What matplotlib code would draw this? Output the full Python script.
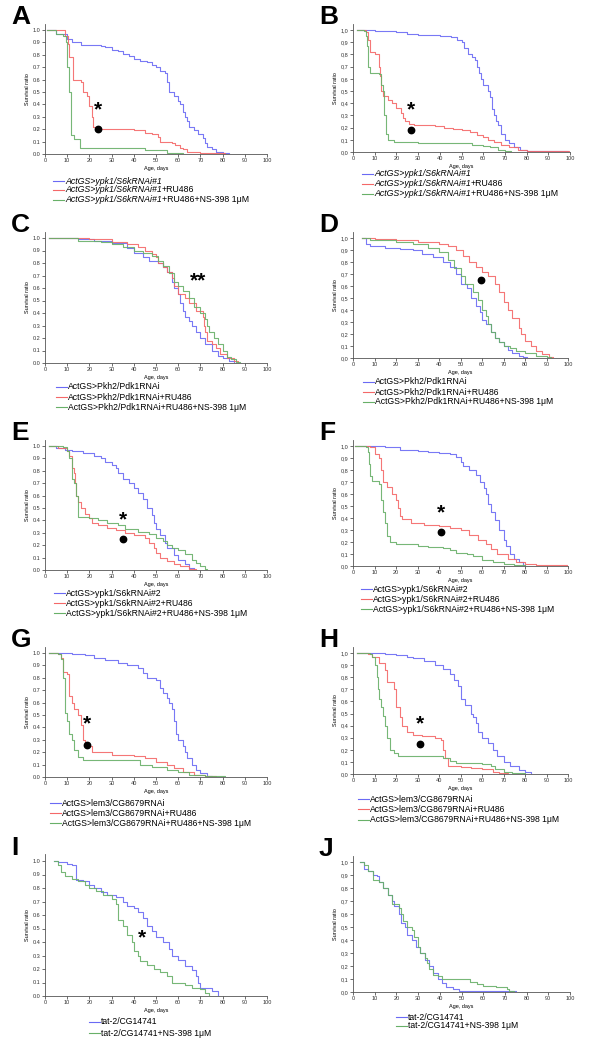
import matplotlib
matplotlib.use("Agg")
import matplotlib.pyplot as plt
from matplotlib.lines import Line2D
from matplotlib.ticker import FuncFormatter

plt.rcParams['font.family'] = ['Liberation Sans', 'DejaVu Sans']

W, H = 600, 1062
BLUE = '#6a6af4'
RED = '#f46868'
GREEN = '#68b068'

# survival curves, (day, survival ratio) at each step
a_blue = [(1, 1.0), (5, 0.97), (10, 0.93), (12, 0.90), (16, 0.88), (25, 0.87), (27, 0.86), (30, 0.84),
          (33, 0.83), (35, 0.81), (38, 0.79), (40, 0.77), (43, 0.75), (46, 0.74), (48, 0.72), (50, 0.70),
          (52, 0.67), (54, 0.65), (55, 0.58), (56, 0.50), (58, 0.47), (60, 0.43), (61, 0.40), (62, 0.34),
          (63, 0.30), (64, 0.27), (65, 0.22), (67, 0.19), (69, 0.16), (71, 0.13), (72, 0.09), (73, 0.06),
          (75, 0.04), (77, 0.02), (80, 0.01), (83, 0.0)]
a_red = [(1, 1.0), (9, 0.95), (10.5, 0.89), (11, 0.78), (12.5, 0.60), (16, 0.58), (17, 0.50), (19, 0.47),
         (20, 0.39), (21, 0.30), (21.5, 0.22), (23, 0.20), (40, 0.19), (45, 0.17), (48, 0.16), (51, 0.14),
         (52, 0.10), (57, 0.09), (58.5, 0.07), (61, 0.05), (62, 0.04), (64, 0.02), (70, 0.01), (75, 0.005),
         (81, 0.0)]
a_green = [(1, 1.0), (5, 0.97), (8, 0.95), (9.3, 0.90), (9.8, 0.70), (10.8, 0.50), (11.6, 0.15),
           (13, 0.12), (15.8, 0.045), (45, 0.03), (55, 0.01), (60, 0.005), (62, 0.0)]

b_blue = [(2, 1.0), (10, 0.99), (20, 0.98), (25, 0.97), (30, 0.96), (40, 0.95), (45, 0.94), (48, 0.92),
          (50, 0.90), (51, 0.85), (53, 0.80), (55, 0.78), (56, 0.75), (57, 0.70), (58, 0.65), (59, 0.60),
          (60, 0.55), (62, 0.50), (63, 0.45), (64, 0.35), (65, 0.30), (66, 0.25), (67, 0.22), (68, 0.15),
          (70, 0.10), (72, 0.07), (74, 0.04), (77, 0.02), (80, 0.01), (90, 0.005), (99, 0.0)]
b_red = [(2, 1.0), (6, 0.98), (7, 0.92), (8, 0.82), (10, 0.80), (12, 0.70), (12.5, 0.62), (13, 0.50),
         (14, 0.46), (16, 0.43), (18, 0.40), (20, 0.36), (22, 0.32), (23, 0.28), (24, 0.25), (26, 0.23),
         (28, 0.22), (38, 0.21), (42, 0.20), (46, 0.19), (50, 0.18), (54, 0.16), (57, 0.14), (60, 0.12),
         (62, 0.10), (65, 0.08), (68, 0.06), (72, 0.04), (76, 0.02), (80, 0.01), (100, 0.01)]
b_green = [(2, 1.0), (5, 0.99), (6, 0.95), (6.5, 0.87), (7, 0.70), (8, 0.65), (12, 0.64), (13, 0.55),
           (14, 0.50), (14.5, 0.30), (15, 0.15), (16, 0.10), (19, 0.08), (30, 0.07), (45, 0.07),
           (55, 0.06), (60, 0.05), (63, 0.04), (67, 0.02), (70, 0.01), (73, 0.0)]

c_blue = [(2, 1.0), (15, 0.99), (22, 0.98), (30, 0.96), (37, 0.92), (40, 0.88), (44, 0.85), (47, 0.82),
          (51, 0.80), (53, 0.77), (55, 0.73), (57, 0.65), (58, 0.60), (60, 0.55), (61, 0.48), (62, 0.42),
          (63, 0.37), (65, 0.34), (66, 0.30), (68, 0.25), (70, 0.20), (72, 0.15), (75, 0.10), (78, 0.06),
          (80, 0.04), (83, 0.02), (85, 0.0)]
c_red = [(2, 1.0), (20, 0.99), (30, 0.97), (37, 0.95), (42, 0.93), (45, 0.90), (48, 0.87), (50, 0.85),
         (51, 0.80), (53, 0.77), (55, 0.73), (57, 0.68), (58, 0.62), (60, 0.55), (63, 0.52), (65, 0.48),
         (68, 0.42), (71, 0.37), (71.5, 0.30), (72, 0.25), (73, 0.18), (75, 0.15), (77, 0.12), (79, 0.07),
         (82, 0.04), (85, 0.02), (87, 0.0)]
c_green = [(2, 1.0), (15, 0.98), (25, 0.97), (30, 0.95), (35, 0.93), (40, 0.90), (44, 0.88), (48, 0.86),
           (51, 0.82), (53, 0.78), (56, 0.72), (58, 0.65), (60, 0.62), (62, 0.58), (65, 0.52), (67, 0.45),
           (70, 0.40), (72, 0.35), (73, 0.30), (74, 0.25), (76, 0.20), (78, 0.15), (80, 0.10), (82, 0.05),
           (84, 0.03), (86, 0.01), (88, 0.0)]

d_blue = [(4, 1.0), (6, 0.95), (8, 0.93), (15, 0.92), (22, 0.91), (28, 0.90), (32, 0.87), (37, 0.84),
          (42, 0.80), (45, 0.76), (48, 0.70), (50, 0.62), (53, 0.58), (55, 0.50), (57, 0.43), (59, 0.38),
          (60, 0.32), (62, 0.28), (64, 0.22), (66, 0.17), (68, 0.13), (70, 0.10), (72, 0.07), (74, 0.04),
          (77, 0.02), (79, 0.01), (81, 0.0)]
d_red = [(4, 1.0), (10, 0.99), (20, 0.98), (30, 0.97), (40, 0.95), (44, 0.93), (48, 0.90), (51, 0.85),
         (54, 0.80), (57, 0.76), (60, 0.72), (63, 0.68), (66, 0.62), (68, 0.55), (70, 0.47), (72, 0.40),
         (74, 0.33), (77, 0.25), (78, 0.20), (80, 0.14), (83, 0.10), (85, 0.06), (88, 0.03), (91, 0.01),
         (93, 0.0)]
d_green = [(4, 1.0), (8, 0.98), (20, 0.97), (28, 0.95), (35, 0.92), (40, 0.88), (44, 0.82), (47, 0.75),
           (50, 0.68), (52, 0.62), (56, 0.55), (58, 0.48), (60, 0.40), (62, 0.35), (63, 0.28), (64, 0.22),
           (66, 0.17), (68, 0.13), (70, 0.10), (73, 0.08), (76, 0.06), (80, 0.04), (85, 0.02), (90, 0.01),
           (92, 0.0)]

e_blue = [(2, 1.0), (5, 0.98), (9, 0.97), (12, 0.96), (17, 0.94), (22, 0.92), (25, 0.90), (27, 0.87),
          (30, 0.85), (32, 0.82), (33, 0.78), (35, 0.73), (38, 0.70), (40, 0.66), (42, 0.62), (44, 0.57),
          (46, 0.50), (48, 0.44), (49, 0.38), (50, 0.33), (52, 0.28), (54, 0.22), (55, 0.18), (58, 0.12),
          (60, 0.08), (63, 0.05), (65, 0.02), (67, 0.0)]
e_red = [(2, 1.0), (6, 0.98), (10, 0.96), (11, 0.92), (12, 0.82), (13, 0.78), (13.5, 0.70), (14, 0.60),
         (15, 0.55), (16, 0.50), (18, 0.45), (20, 0.42), (21, 0.38), (24, 0.36), (28, 0.34), (32, 0.32),
         (36, 0.30), (40, 0.28), (45, 0.26), (47, 0.22), (49, 0.18), (50, 0.14), (52, 0.10), (55, 0.07),
         (58, 0.05), (61, 0.03), (65, 0.01), (68, 0.0)]
e_green = [(2, 1.0), (8, 0.99), (10, 0.96), (11, 0.90), (12, 0.73), (13, 0.70), (14, 0.60), (15, 0.43),
           (20, 0.42), (24, 0.40), (28, 0.38), (33, 0.36), (36, 0.33), (42, 0.31), (47, 0.29), (50, 0.26),
           (53, 0.23), (55, 0.20), (57, 0.18), (60, 0.16), (63, 0.13), (66, 0.08), (68, 0.06), (70, 0.03),
           (72, 0.01), (73, 0.0)]

f_blue = [(1, 1.0), (15, 0.99), (22, 0.97), (30, 0.96), (35, 0.95), (40, 0.94), (45, 0.93), (48, 0.91),
          (50, 0.87), (51, 0.83), (54, 0.80), (57, 0.76), (59, 0.70), (61, 0.65), (62, 0.60), (63, 0.52),
          (64, 0.45), (66, 0.38), (68, 0.30), (70, 0.22), (71, 0.17), (73, 0.10), (75, 0.06), (77, 0.03),
          (79, 0.01), (80, 0.0)]
f_red = [(1, 1.0), (8, 0.99), (10, 0.93), (12, 0.90), (13, 0.80), (14, 0.70), (16, 0.66), (18, 0.60),
         (20, 0.55), (21, 0.48), (22, 0.42), (23, 0.39), (27, 0.36), (33, 0.34), (40, 0.33), (45, 0.32),
         (50, 0.30), (54, 0.26), (58, 0.22), (62, 0.18), (64, 0.14), (67, 0.10), (72, 0.06), (76, 0.03),
         (80, 0.02), (85, 0.01), (100, 0.005)]
f_green = [(1, 1.0), (6, 0.99), (7, 0.95), (7.5, 0.85), (8, 0.75), (9, 0.71), (12, 0.68), (13, 0.55),
           (14, 0.45), (15, 0.36), (16, 0.25), (17, 0.20), (20, 0.18), (30, 0.17), (35, 0.16), (42, 0.15),
           (45, 0.13), (48, 0.11), (53, 0.10), (56, 0.08), (60, 0.05), (65, 0.03), (70, 0.02), (75, 0.01),
           (80, 0.0)]

g_blue = [(2, 1.0), (12, 0.99), (18, 0.98), (22, 0.96), (27, 0.94), (33, 0.92), (37, 0.90), (42, 0.88),
          (44, 0.84), (46, 0.80), (50, 0.78), (52, 0.72), (53, 0.68), (55, 0.64), (56, 0.60), (57, 0.55),
          (58, 0.45), (59, 0.35), (60, 0.30), (62, 0.25), (63, 0.20), (64, 0.15), (66, 0.10), (68, 0.06),
          (70, 0.03), (73, 0.01), (75, 0.0)]
g_red = [(2, 1.0), (6, 0.99), (7, 0.96), (8, 0.85), (10, 0.83), (11, 0.65), (12, 0.60), (13, 0.55),
         (15, 0.50), (16, 0.42), (17, 0.30), (18, 0.25), (21, 0.20), (30, 0.18), (40, 0.17), (45, 0.15),
         (50, 0.12), (55, 0.10), (58, 0.07), (62, 0.04), (67, 0.02), (72, 0.01), (77, 0.0)]
g_green = [(2, 1.0), (6, 0.99), (7, 0.95), (8, 0.80), (9, 0.52), (10, 0.45), (11, 0.35), (12, 0.30),
           (13, 0.22), (15, 0.16), (17, 0.14), (43, 0.10), (48, 0.08), (55, 0.06), (60, 0.04), (65, 0.02),
           (72, 0.01), (81, 0.0)]

h_blue = [(2, 1.0), (15, 0.99), (20, 0.98), (25, 0.97), (28, 0.96), (33, 0.93), (38, 0.90), (42, 0.87),
          (45, 0.83), (47, 0.78), (49, 0.73), (50, 0.62), (52, 0.57), (55, 0.50), (56, 0.47), (57, 0.42),
          (58, 0.35), (60, 0.30), (63, 0.26), (65, 0.20), (67, 0.15), (70, 0.10), (73, 0.07), (77, 0.03),
          (80, 0.02), (83, 0.0)]
h_red = [(2, 1.0), (7, 0.99), (9, 0.97), (12, 0.92), (15, 0.86), (16, 0.76), (19, 0.70), (20, 0.55),
         (22, 0.47), (23, 0.40), (25, 0.35), (28, 0.32), (32, 0.31), (38, 0.30), (41, 0.28), (42, 0.20),
         (43, 0.13), (44, 0.07), (50, 0.06), (55, 0.05), (60, 0.04), (65, 0.02), (68, 0.01), (72, 0.0)]
h_green = [(2, 1.0), (8, 0.99), (9, 0.97), (10, 0.90), (11, 0.80), (11.5, 0.70), (12, 0.62), (13, 0.55),
           (14, 0.48), (15, 0.40), (16, 0.30), (17, 0.20), (19, 0.17), (21, 0.15), (38, 0.15), (42, 0.13),
           (45, 0.11), (48, 0.09), (60, 0.08), (64, 0.07), (66, 0.04), (70, 0.02), (74, 0.01), (80, 0.0)]

i_blue = [(4, 1.0), (6, 0.99), (10, 0.98), (12, 0.97), (14, 0.86), (17, 0.85), (20, 0.82), (22, 0.80),
          (25, 0.77), (28, 0.75), (32, 0.73), (35, 0.70), (37, 0.67), (40, 0.65), (42, 0.62), (44, 0.58),
          (46, 0.52), (48, 0.48), (50, 0.44), (53, 0.40), (56, 0.35), (57, 0.30), (60, 0.27), (63, 0.22),
          (66, 0.19), (68, 0.15), (69, 0.10), (70, 0.06), (75, 0.04), (78, 0.0)]
i_green = [(4, 1.0), (6, 0.97), (7, 0.92), (9, 0.89), (12, 0.87), (15, 0.85), (18, 0.82), (20, 0.80),
           (23, 0.78), (26, 0.75), (30, 0.72), (32, 0.68), (33, 0.56), (35, 0.52), (37, 0.45), (39, 0.40),
           (40, 0.33), (42, 0.30), (43, 0.26), (46, 0.23), (49, 0.20), (52, 0.18), (55, 0.15), (57, 0.10),
           (63, 0.08), (66, 0.06), (70, 0.05), (72, 0.02), (74, 0.0)]

j_blue = [(3, 1.0), (5, 0.95), (7, 0.93), (9, 0.90), (11, 0.89), (12, 0.85), (14, 0.80), (16, 0.75),
          (18, 0.70), (19, 0.66), (21, 0.60), (22, 0.53), (24, 0.50), (25, 0.44), (27, 0.40), (29, 0.35),
          (31, 0.30), (33, 0.25), (35, 0.20), (37, 0.15), (39, 0.10), (41, 0.07), (43, 0.04), (46, 0.02),
          (49, 0.01), (60, 0.005), (75, 0.0)]
j_green = [(3, 1.0), (5, 0.98), (7, 0.93), (9, 0.86), (12, 0.85), (14, 0.80), (16, 0.75), (18, 0.68),
           (21, 0.65), (22, 0.60), (23, 0.55), (25, 0.50), (27, 0.48), (28, 0.42), (30, 0.35), (31, 0.30),
           (33, 0.26), (34, 0.22), (35, 0.18), (37, 0.13), (39, 0.12), (41, 0.10), (50, 0.10), (54, 0.08),
           (57, 0.06), (60, 0.05), (66, 0.04), (71, 0.02), (72, 0.01), (74, 0.0)]

ypk1_1 = 'ActGS>ypk1/S6kRNAi#1'
ypk1_2 = 'ActGS>ypk1/S6kRNAi#2'
pkh2 = 'ActGS>Pkh2/Pdk1RNAi'
lem3 = 'ActGS>lem3/CG8679RNAi'
tat2 = 'tat-2/CG14741'
suffixes3 = ['', '+RU486', '+RU486+NS-398 1\u03bcM']
suffixes2 = ['', '+NS-398 1\u03bcM']

# layout in pixels: axes left, y of 1.0, right, y of 0.0, legend line x, legend rows
panels = [
    dict(letter='A', box=(45, 30, 267, 154), curves=[a_blue, a_red, a_green], base=ypk1_1, italic=True,
         suffixes=suffixes3, comma=False, leg_x=53, leg_y=[181, 190, 200],
         marks=[('*', 24, 0.39), ('o', 24, 0.20)]),
    dict(letter='B', box=(353, 30, 570, 152), curves=[b_blue, b_red, b_green], base=ypk1_1, italic=True,
         suffixes=suffixes3, comma=True, leg_x=362, leg_y=[174, 184, 194],
         marks=[('*', 26.5, 0.376), ('o', 26.6, 0.18)]),
    dict(letter='C', box=(45, 238, 267, 363), curves=[c_blue, c_red, c_green], base=pkh2, italic=False,
         suffixes=suffixes3, comma=False, leg_x=56, leg_y=[387, 397, 407],
         marks=[('**', 69, 0.69)]),
    dict(letter='D', box=(353, 238, 568, 358), curves=[d_blue, d_red, d_green], base=pkh2, italic=False,
         suffixes=suffixes3, comma=True, leg_x=363, leg_y=[382, 392, 402],
         marks=[('o', 59.7, 0.65)]),
    dict(letter='E', box=(45, 446, 267, 570), curves=[e_blue, e_red, e_green], base=ypk1_2, italic=False,
         suffixes=suffixes3, comma=False, leg_x=54, leg_y=[593, 603, 613],
         marks=[('*', 35.3, 0.44), ('o', 35.3, 0.25)]),
    dict(letter='F', box=(353, 446, 568, 566), curves=[f_blue, f_red, f_green], base=ypk1_2, italic=False,
         suffixes=suffixes3, comma=True, leg_x=361, leg_y=[589, 599, 609],
         marks=[('*', 40.8, 0.48), ('o', 40.8, 0.28)]),
    dict(letter='G', box=(45, 653, 267, 777), curves=[g_blue, g_red, g_green], base=lem3, italic=False,
         suffixes=suffixes3, comma=False, leg_x=50, leg_y=[803, 813, 823],
         marks=[('*', 18.8, 0.46), ('o', 19.1, 0.26)]),
    dict(letter='H', box=(353, 653, 568, 774), curves=[h_blue, h_red, h_green], base=lem3, italic=False,
         suffixes=suffixes3, comma=True, leg_x=358, leg_y=[799, 809, 820],
         marks=[('*', 31.2, 0.45), ('o', 31.2, 0.25)]),
    dict(letter='I', box=(45, 861, 267, 996), curves=[i_blue, i_green], base=tat2, italic=False,
         suffixes=suffixes2, comma=False, leg_x=89, leg_y=[1022, 1033],
         marks=[('*', 43.6, 0.46)]),
    dict(letter='J', box=(353, 862, 570, 992), curves=[j_blue, j_green], base=tat2, italic=False,
         suffixes=suffixes2, comma=True, leg_x=396, leg_y=[1017, 1026],
         marks=[]),
]


def fx(px):
    return px / W


def fy(py):
    return 1 - py / H


def draw_panel(fig, p):
    left, top1, right, bottom0 = p['box']
    ytop = 1.05
    top_px = bottom0 - (bottom0 - top1) * ytop
    ax = fig.add_axes([fx(left), fy(bottom0), (right - left) / W, (bottom0 - top_px) / H])

    colors = [BLUE, RED, GREEN] if len(p['curves']) == 3 else [BLUE, GREEN]
    for curve, col in zip(p['curves'], colors):
        days = [d for d, s in curve]
        surv = [s for d, s in curve]
        ax.plot(days, surv, drawstyle='steps-post', color=col, lw=0.8, alpha=0.9)

    ax.set_xlim(0, 100)
    ax.set_ylim(0, ytop)
    ax.set_xticks(range(0, 101, 10))
    ax.set_yticks([k / 10 for k in range(11)])
    sep = ',' if p['comma'] else '.'
    ax.yaxis.set_major_formatter(FuncFormatter(lambda v, pos: f'{v:.1f}'.replace('.', sep)))
    ax.tick_params(labelsize=4, length=2, width=0.5, pad=1.2, colors='#333333')
    for side in ('top', 'right'):
        ax.spines[side].set_visible(False)
    for side in ('left', 'bottom'):
        ax.spines[side].set_linewidth(0.6)
        ax.spines[side].set_color('#555555')
    ax.set_xlabel('Age, days', fontsize=4, labelpad=1.5)
    ax.set_ylabel('Survival ratio', fontsize=4, labelpad=2)

    for sym, x, y in p['marks']:
        if sym == 'o':
            ax.plot([x], [y], 'o', color='black', ms=4.6)
        else:
            ax.annotate(sym, xy=(x, y), xytext=(0, -3), textcoords='offset points',
                        fontsize=15, fontweight='bold', ha='center', va='center')

    fig.text(fx(left - 34), fy(top1 - 1), p['letter'], fontsize=19, fontweight='bold',
             ha='left', va='bottom')

    lx = p['leg_x']
    for col, suf, ry in zip(colors, p['suffixes'], p['leg_y']):
        fig.add_artist(Line2D([fx(lx), fx(lx + 11)], [fy(ry), fy(ry)], color=col, lw=0.8))
        if p['italic']:
            t = fig.text(fx(lx + 12), fy(ry), p['base'], fontsize=6.3, style='italic',
                         ha='left', va='center')
            if suf:
                ax.annotate(suf, xy=(1, 0.5), xycoords=t, fontsize=6.3, ha='left', va='center',
                            annotation_clip=False)
        else:
            fig.text(fx(lx + 12), fy(ry), p['base'] + suf, fontsize=6.2, ha='left', va='center')
    return ax


fig = plt.figure(figsize=(W / 100, H / 100), dpi=100)
for p in panels:
    draw_panel(fig, p)
fig.savefig('out.png', dpi=100)
